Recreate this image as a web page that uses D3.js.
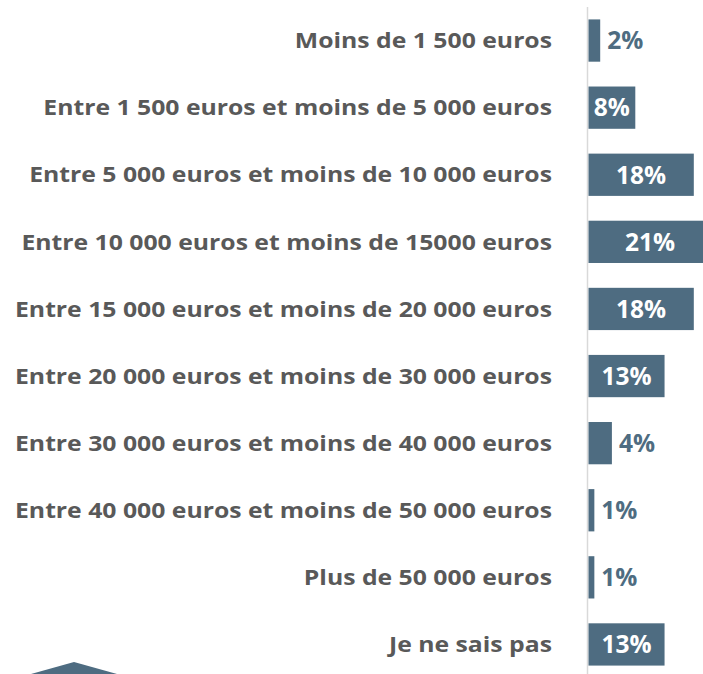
<!DOCTYPE html>
<html>
<head>
<meta charset="utf-8">
<script src="https://cdn.jsdelivr.net/npm/d3@7"></script>
<style>
  body { margin: 0; background: #fff; }
  svg { display: block; }
</style>
</head>
<body>
<svg id="chart" width="703" height="674"></svg>
<script>
// tranches de revenus
const categories = [
  "Moins de 1 500 euros",
  "Entre 1 500 euros et moins de 5 000 euros",
  "Entre 5 000 euros et moins de 10 000 euros",
  "Entre 10 000 euros et moins de 15000 euros",
  "Entre 15 000 euros et moins de 20 000 euros",
  "Entre 20 000 euros et moins de 30 000 euros",
  "Entre 30 000 euros et moins de 40 000 euros",
  "Entre 40 000 euros et moins de 50 000 euros",
  "Plus de 50 000 euros",
  "Je ne sais pas"
];
const values = [2, 8, 18, 21, 18, 13, 4, 1, 1, 13];
const valueLabels = ["2%", "8%", "18%", "21%", "18%", "13%", "4%", "1%", "1%", "13%"];

const barColor = "#4e6c81";
const svg = d3.select("#chart");

const x0 = 588.5;
const x = d3.scaleLinear().domain([0, 1]).range([x0, x0 + 5.85]);
const y = d3.scaleBand().domain(categories).range([6, 679]).paddingInner(0.37).paddingOuter(0.2);

// axe vertical
svg.append("line")
  .attr("x1", x0 - 1).attr("x2", x0 - 1)
  .attr("y1", 7).attr("y2", 674)
  .attr("stroke", "#d9d9d9").attr("stroke-width", 1.5);

svg.selectAll("rect.bar").data(values).enter().append("rect")
  .attr("class", "bar")
  .attr("x", x(0))
  .attr("y", (d, i) => y(categories[i]))
  .attr("width", d => x(d) - x(0))
  .attr("height", y.bandwidth())
  .attr("fill", barColor);

// libellés des catégories
const cats = svg.selectAll("text.cat").data(categories).enter().append("text")
  .attr("class", "cat")
  .attr("x", 552)
  .attr("y", d => y(d) + y.bandwidth() / 2)
  .attr("dy", "0.35em")
  .attr("text-anchor", "end")
  .attr("fill", "#595959")
  .attr("font-family", "'Open Sans', sans-serif")
  .attr("font-weight", 700)
  .attr("font-size", 22)
  .text(d => d);

// élargir un peu (police d'origine plus large à hauteur égale)
const longest = d3.max(cats.nodes(), n => n.getComputedTextLength());
const k = 537 / longest;
cats.each(function () {
  const w = this.getComputedTextLength();
  d3.select(this).attr("textLength", w * k).attr("lengthAdjust", "spacingAndGlyphs");
});

// valeurs
svg.selectAll("text.val").data(values).enter().append("text")
  .attr("class", "val")
  .attr("x", d => d >= 8 ? (x(0) + x(d)) / 2 : x(d) + 7)
  .attr("y", (d, i) => y(categories[i]) + y.bandwidth() / 2)
  .attr("dy", "0.36em")
  .attr("text-anchor", d => d >= 8 ? "middle" : "start")
  .attr("fill", d => d >= 8 ? "#ffffff" : barColor)
  .attr("font-family", "'Open Sans', sans-serif")
  .attr("font-weight", 700)
  .attr("font-size", 24.5)
  .text((d, i) => valueLabels[i]);

// forme décorative en bas à gauche
svg.append("polygon")
  .attr("points", "31,674 74,662 117,674")
  .attr("fill", barColor);
</script>
</body>
</html>
